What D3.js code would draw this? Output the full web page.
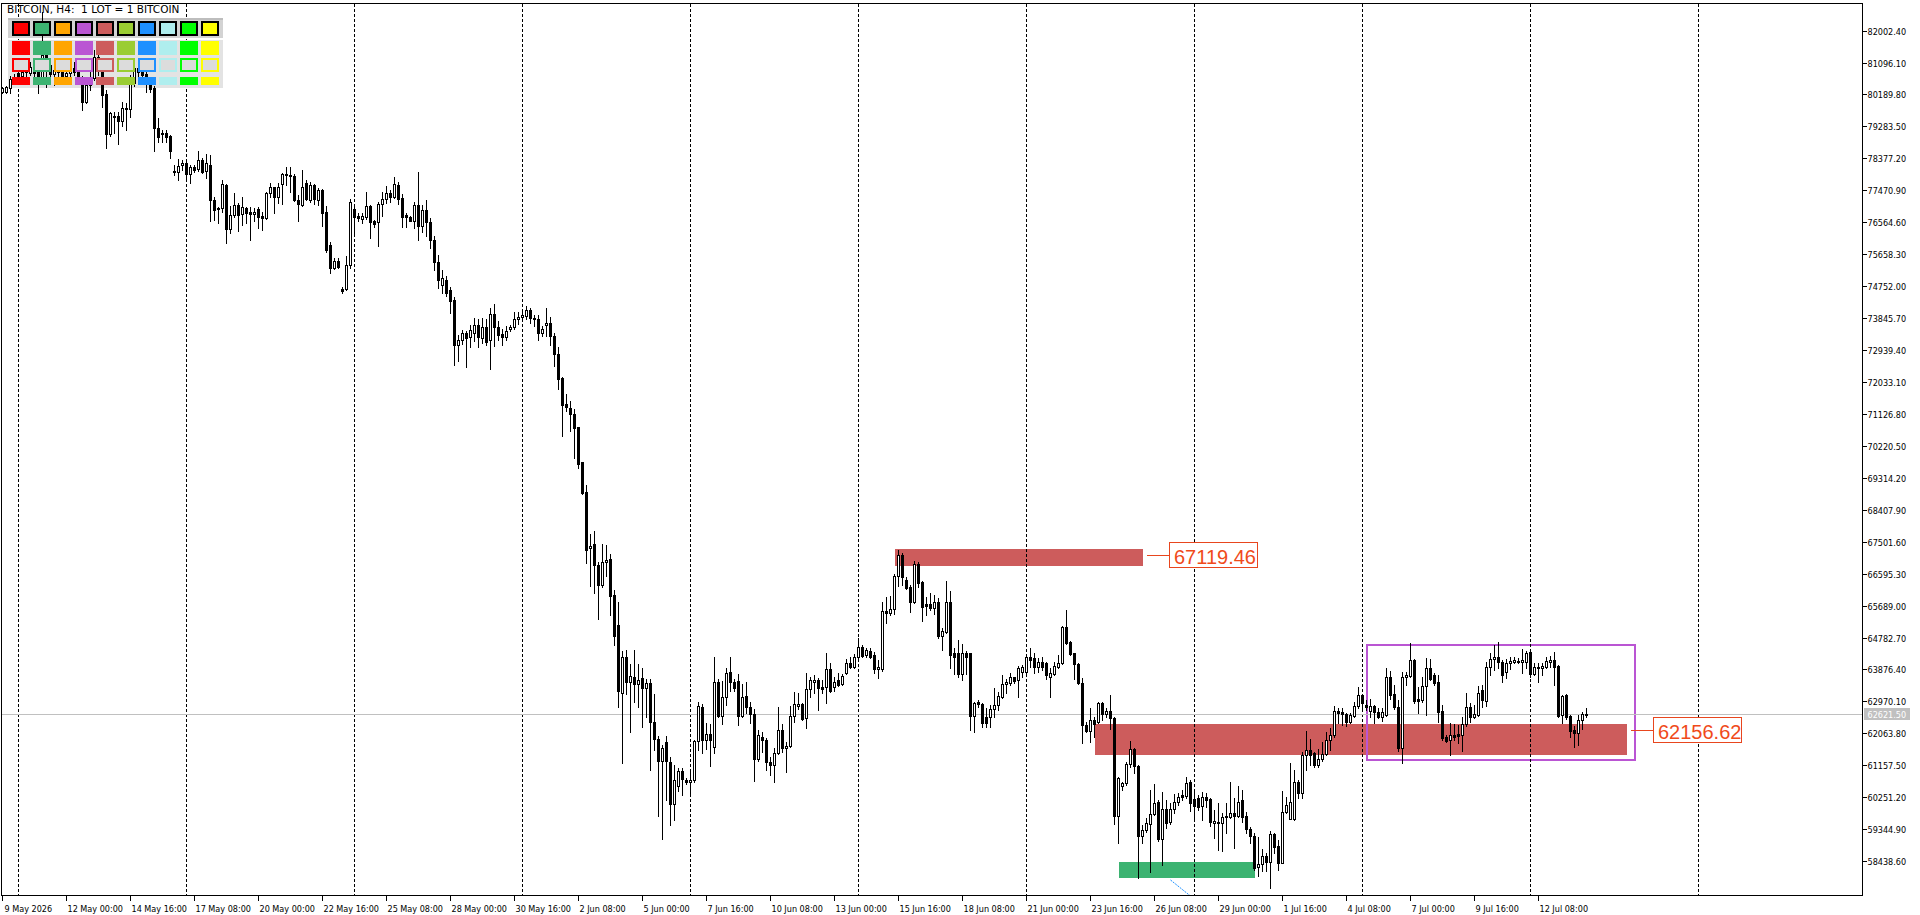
<!DOCTYPE html>
<html><head><meta charset="utf-8">
<script src="https://cdn.jsdelivr.net/npm/d3@7"></script>
<style>
html,body{margin:0;padding:0;background:#fff;overflow:hidden;}
svg{display:block;}
.ax{font-family:"DejaVu Sans Condensed","DejaVu Sans",sans-serif;font-size:9px;fill:#000;}
.title{font-family:"DejaVu Sans",sans-serif;font-size:10.5px;fill:#000;white-space:pre;}
</style></head><body>
<svg id="c" width="1920" height="915"></svg>
<script>
// ---------- DATA ----------
const symbolTitle = "BITCOIN, H4:  1 LOT = 1 BITCOIN";
const firstBarUTC = Date.UTC(2026, 4, 9, 8); // 9 May 2026 08:00, H4 bars
// [open, high, low, close] per H4 bar
const ohlc = [
[80270,80400,80230,80360],[80270,80430,80230,80390],[80370,80710,80220,80620],[80600,80770,80490,80690],[80800,80940,80600,80710],
[80710,80880,80600,80830],[80830,81000,80710,80910],[80810,81110,80740,80980],[80970,81080,80710,80800],[80830,80880,80240,80600],
[80660,82530,80490,81310],[81310,81450,80410,81030],[81030,81170,80660,80770],[80770,81000,80460,80880],[80880,81050,80710,80830],
[80830,80940,80600,80710],[80710,80880,80540,80800],[80800,81030,80660,80940],[80940,81110,80740,80830],[80830,81000,80490,80600],
[80600,80710,79750,79980],[79980,80540,79950,80460],[80460,80880,80320,80660],[80650,81450,80600,81260],[81250,81390,80740,80880],
[80880,81030,79840,80180],[80200,80320,78670,79070],[79070,79700,79010,79660],[79550,79680,79110,79580],[79580,79700,78790,79450],
[79450,79990,79300,79800],[79770,79950,79180,79800],[79770,80740,79560,80520],[80520,81110,80430,80940],[80940,81110,80600,80830],
[80830,80940,80600,80740],[80770,80880,80270,80690],[80460,80540,80260,80340],[80370,80430,78590,79230],[79230,79520,78850,78990],
[79100,79180,78850,79070],[79100,79180,78850,78990],[79010,79040,78400,78590],[78020,78190,77910,77990],[77980,78350,77760,78170],
[78190,78330,78050,78250],[78240,78350,77760,77920],[77920,78190,77690,78120],[78120,78190,77990,78050],[78070,78590,78030,78330],
[78330,78380,77950,78000],[78020,78490,77810,78240],[78190,78470,76600,77200],[77200,77290,76630,76910],[76960,77010,76530,76930],
[76960,77760,76860,77640],[77620,77660,75980,76360],[76360,77030,76250,76770],[76760,77400,76720,77050],[77050,77100,76330,76770],
[76800,77290,76490,77010],[76960,77010,76530,76840],[76860,77010,76060,76800],[76790,76980,76610,76850],[76930,77010,76390,76720],
[76740,76860,76350,76680],[76680,77430,76650,77390],[77390,77670,77290,77560],[77560,77570,76820,77270],[77270,77670,77100,77570],
[77640,77970,77070,77920],[77920,78120,77610,77900],[77910,78140,77430,77870],[77880,77920,77180,77200],[77200,77340,76610,77070],
[77050,78050,77030,77560],[77670,77760,77200,77220],[77200,77720,77150,77610],[77610,77650,77080,77220],[77200,77530,77050,77480],
[77480,77500,76470,76820],[76860,77030,75720,75780],[75920,76010,75120,75260],[75260,75550,75240,75470],[75470,75550,75270,75300],
[74660,74740,74570,74620],[74660,75610,74640,75350],[75350,77220,75260,77150],[76930,77010,76270,76720],[76740,76820,76610,76680],
[76670,76820,76550,76740],[76720,77420,76650,77030],[77030,77050,76130,76580],[76600,76630,76440,76510],[76580,77150,75900,77080],
[77070,77430,76750,77220],[77220,77590,77120,77390],[77400,77480,77150,77290],[77290,77840,77240,77640],[77620,77720,77080,77220],
[77260,77360,76440,76720],[76760,76840,76420,76700],[76720,76740,76590,76610],[76610,77150,76390,77050],[77050,78000,76060,76470],
[76470,77050,76290,76910],[76910,77200,76180,76570],[76570,76690,75830,76060],[76060,76180,75210,75440],[75440,75640,74700,74930],
[74780,75210,74560,74980],[74930,75040,74470,74560],[74640,74730,73990,74340],[74360,74440,72520,73070],[73070,73380,72620,73230],
[73230,73510,73110,73430],[73430,73480,72470,73280],[73310,73650,73020,73510],[73430,73850,73200,73650],[73650,73810,73020,73310],
[73280,73850,73130,73580],[73580,73830,73070,73180],[73230,74120,72400,73950],[73950,74240,73040,73600],[73600,73750,73230,73380],
[73400,73530,73070,73300],[73300,73610,73230,73480],[73530,73650,73480,73600],[73590,74020,73530,73810],[73810,74020,73680,73880],
[73870,74090,73780,73930],[73910,74190,73830,74070],[74070,74140,73710,73850],[73850,73930,73630,73810],[73810,73930,73230,73410],
[73410,73630,73330,73550],[73650,74140,73330,73700],[73700,73880,73070,73350],[73330,73410,72500,72820],[72820,73020,71830,72130],
[72160,72180,70510,71380],[71410,71690,71200,71320],[71300,71490,70650,71120],[71120,71270,69890,70720],[70750,70770,69580,69720],
[69750,69760,68850,68870],[68910,69100,66900,67280],[67310,67710,66240,67390],[67440,67810,66040,66850],[66850,66930,65310,66270],
[66270,67440,66220,66930],[66920,67410,66530,66980],[67020,67150,65410,65960],[65990,66140,64570,64830],[65130,65790,62800,63260],
[63210,64400,61230,64240],[64240,64440,63190,63510],[63510,64020,62110,63680],[63660,64420,62950,63460],[63460,64040,62820,63580],
[63630,63920,62250,63360],[63360,63610,62520,63480],[63480,63610,61030,62400],[62400,63190,61590,61910],[61910,61990,59720,61290],
[61290,61740,59060,61640],[61810,61990,60170,61290],[61260,61390,59470,60070],[60070,61180,59620,60750],[60580,61080,60420,61000],
[61000,61080,60320,60760],[60750,60800,60630,60680],[60680,61030,60290,60750],[60730,61890,60680,61840],[61840,62950,61590,62850],
[62820,62900,61510,61870],[61870,62350,61610,62040],[62040,62320,61130,61870],[61670,64240,61510,63530],[63530,63610,62520,62550],
[62550,63560,62320,63110],[63110,63920,62880,63790],[63810,64220,63260,63510],[63510,63610,63260,63360],[63560,63760,62300,62550],
[62550,63460,62520,63110],[63130,63510,62650,62820],[62820,62950,62350,62620],[62620,62750,60700,61340],[61340,62170,61290,62010],
[61970,62090,61540,61870],[61870,61940,61030,61260],[61260,61390,60880,61160],[61160,61640,60680,61510],[61510,62800,61470,62170],
[62170,62320,61540,61640],[61640,61810,60980,61710],[61710,62850,61670,62570],[62570,63230,62400,62900],[62850,63210,62750,62900],
[62900,62930,62440,62460],[62490,63790,62210,63320],[63320,63670,63100,63580],[63530,63720,63200,63580],[63580,63630,62730,63340],
[63390,63580,63200,63320],[63390,64340,62920,63880],[63880,64050,63250,63280],[63370,63660,63280,63530],[63580,63770,63410,63440],
[63470,63750,63440,63690],[63790,64170,63750,64070],[64070,64220,63910,63960],[63960,64310,63910,64240],[64240,64760,64190,64510],
[64510,64570,64240,64260],[64290,64480,64240,64430],[64400,64480,64190,64240],[64290,64380,63770,63880],[63880,64150,63630,63960],
[63880,65800,63840,65540],[65540,65940,65200,65490],[65490,65960,65420,65580],[65580,66590,65450,66530],[66530,67270,66250,67120],
[67120,67170,66270,66490],[66420,66490,66150,66200],[66230,66270,65520,65800],[65800,66960,65750,66870],[66870,66930,66230,66340],
[66370,66400,65260,65660],[65740,65940,65420,65680],[65740,66050,65560,65610],[65610,65990,65450,65800],[65800,65900,64760,64830],
[64830,65050,64430,64970],[64950,66390,64900,65800],[65800,66100,63910,64290],[64350,64480,63750,64220],[64350,64710,63670,63750],
[63750,64600,63580,64350],[64350,64410,63750,64240],[64340,64350,62160,62560],[62560,62960,62110,62930],[62960,63010,62820,62900],
[62900,62930,62240,62370],[62540,62780,62250,62370],[62520,62870,62240,62750],[62750,63340,62540,62870],[62870,63250,62730,63120],
[63100,63720,63060,63460],[63460,63600,63220,63530],[63500,63790,63440,63660],[63660,63670,63490,63550],[63580,63980,63100,63930],
[63810,64000,63670,63960],[63810,64290,63770,64220],[64220,64500,63960,64150],[64190,64340,63790,63940],[63940,64190,63810,64100],
[64100,64220,63860,63960],[64050,64100,63600,63720],[63670,63910,63100,63770],[63750,64100,63720,63980],[63960,64290,63910,64050],
[64050,65110,64030,65090],[65090,65560,64600,64640],[64670,64690,64290,64310],[64340,64350,63600,64030],[64030,64050,63470,63500],
[63500,63630,61800,62300],[62300,62400,62110,62140],[62140,62780,61830,62440],[62440,62540,61970,62320],[62400,62960,62350,62920],
[62920,62960,62440,62610],[62610,62780,62520,62700],[62700,63150,62180,62490],[62510,62540,59490,59730],[59730,60840,58950,60790],
[60580,60690,60460,60670],[60650,61260,60600,61190],[61190,61860,61120,61610],[61610,61660,60930,61140],[61140,61170,57950,59150],
[59150,59470,58950,59320],[59320,59650,59270,59510],[59490,60460,58140,59780],[59780,60620,59750,60100],[60130,60170,59020,59060],
[59060,60410,58330,59910],[59910,60170,59370,59530],[59560,60100,59490,59930],[59930,60340,59800,60130],[60130,60360,60030,60270],
[60320,60460,60170,60250],[60290,60840,60220,60670],[60690,60740,59870,60100],[60190,60460,59610,60000],[60220,60320,59890,59980],
[60010,60410,59610,60250],[60250,60360,59980,60170],[60190,60220,59440,59560],[59510,59890,59090,59580],[59560,60080,58760,59510],
[59510,59800,58740,59680],[59680,60100,59230,59720],[59700,60680,59650,59810],[59810,60220,58820,59720],[59720,60570,59680,60130],
[60170,60460,59560,59700],[59720,59840,59230,59340],[59340,59420,58960,59150],[59150,59230,58190,58240],[58270,59120,58020,58360],
[58350,58780,58170,58590],[58590,58660,58170,58420],[58420,59300,57670,59210],[59210,59250,58660,58850],[58870,59040,58190,58400],
[58400,60430,58380,59830],[59830,60270,59800,60030],[59640,61220,59630,60130],[59640,61030,59610,60680],[60680,60740,60220,60380],
[60380,61540,60220,61450],[61450,62130,61030,61590],[61590,61900,61170,61450],[61500,61540,61120,61170],[61170,61610,61120,61340],
[61330,61830,61290,61480],[61480,62110,61450,61880],[61880,62210,61590,62020],[62020,62840,61970,62700],[62700,62780,62350,62630],
[62670,62780,62300,62610],[62610,62640,62270,62400],[62400,62640,62350,62590],[62570,62960,62520,62840],[62840,63390,62780,63150],
[63150,63170,62780,62920],[62870,63010,62730,62820],[62710,63030,62520,62840],[62840,62870,62350,62680],[62680,62780,62490,62540],
[62540,62780,62420,62670],[62590,63910,62560,63660],[63660,63830,63030,63150],[63180,63440,62750,62800],[62800,63010,61570,61640],
[61640,63810,61220,63660],[63660,63810,63440,63720],[63700,64620,63670,64150],[64150,64170,62930,62990],[63040,63390,62650,62990],
[63010,63670,62960,63410],[63410,64190,62590,63910],[63910,64170,63580,63600],[63720,63790,63440,63500],[63530,63720,62400,62680],
[62700,62870,61880,61930],[61950,62020,61830,61860],[61880,62370,61450,62020],[62020,62330,61880,61970],[62050,62300,61800,61990],
[62020,62540,61570,62330],[62330,63220,62270,62800],[62800,62920,62400,62520],[62520,62870,62490,62610],[62590,63410,62560,63200],
[63300,63440,62800,63010],[62990,64100,62840,63940],[63940,64340,63720,64170],[64170,64570,63860,64220],[64220,64670,63910,64100],
[64100,64150,63530,63720],[63810,64170,63630,64050],[64050,64240,63880,64120],[64100,64240,64050,64150],[64120,64190,64050,64100],
[64100,64450,63770,64150],[64100,64410,63910,64340],[64380,64410,63670,63750],[63750,64070,63720,63960],[63960,64070,63530,63930],
[63930,64070,63720,63980],[63960,64240,63910,64130],[64100,64260,63960,64150],[64150,64380,63440,63960],[63980,64000,62520,62560],
[62590,63150,62370,63120],[63150,63180,62460,62520],[62560,62590,61970,62140],[62160,62270,61690,62070],[62070,62590,61740,62440],
[62440,62680,62180,62610],[62590,62780,62540,62621.5]
];
const bidPrice = 62621.50;
const priceTicks = [82002.40,81096.10,80189.80,79283.50,78377.20,77470.90,76564.60,75658.30,74752.00,73845.70,72939.40,72033.10,71126.80,
  70220.50,69314.20,68407.90,67501.60,66595.30,65689.00,64782.70,63876.40,62970.10,62063.80,61157.50,60251.20,59344.90,58438.60];
const timeTickLabels = ["9 May 2026","12 May 00:00","14 May 16:00","17 May 08:00","20 May 00:00","22 May 16:00","25 May 08:00",
  "28 May 00:00","30 May 16:00","2 Jun 08:00","5 Jun 00:00","7 Jun 16:00","10 Jun 08:00","13 Jun 00:00","15 Jun 16:00","18 Jun 08:00",
  "21 Jun 00:00","23 Jun 16:00","26 Jun 08:00","29 Jun 00:00","1 Jul 16:00","4 Jul 08:00","7 Jul 00:00","9 Jul 16:00","12 Jul 08:00"];
const weekSeparatorsUTC = ["2026-05-10","2026-05-17","2026-05-24","2026-05-31","2026-06-07","2026-06-14","2026-06-21","2026-06-28","2026-07-05","2026-07-12","2026-07-19"];
// chart objects (time, price)
const zones = [
  {t1:"2026-06-15T12:00Z", t2:"2026-06-25T20:00Z", p1:67300, p2:66820, color:"#CD5C5C"},
  {t1:"2026-06-23T20:00Z", t2:"2026-07-16T00:00Z", p1:62330, p2:61450, color:"#CD5C5C"},
  {t1:"2026-06-24T20:00Z", t2:"2026-06-30T12:00Z", p1:58415, p2:57970, color:"#3CB371"}
];
const rangeBox = {t1:"2026-07-05T04:00Z", t2:"2026-07-16T08:00Z", p1:64580, p2:61320, color:"#BA55D3"};
const trendLine = {t1:"2026-06-27T00:00Z", p1:57905, t2:"2026-06-28T08:00Z", p2:57175, color:"#1E90FF"};
const priceLabels = [
  {value:67119.46, t:"2026-06-25T20:00Z"},
  {value:62156.62, t:"2026-07-16T00:00Z"}
];
const panelColors = ["#FF0000","#3CB371","#FFA500","#BA55D3","#CD5C5C","#9ACD32","#1E90FF","#AFEEEE","#00FF00","#FFFF00"];

// ---------- LAYOUT ----------
const H4 = 4*3600e3;
const plotL = 1.5, plotR = 1862.5, plotT = 3.5, plotB = 895.5;
const x = d3.scaleUtc().domain([new Date(firstBarUTC), new Date(firstBarUTC + 465*H4)]).range([2.5, 2.5 + 465*4]);
const y = d3.scaleLinear().domain([82870, 57337]).range([0, 900]);
const barTime = i => new Date(firstBarUTC + i*H4);

const svg = d3.select("#c");
svg.append("rect").attr("width",1920).attr("height",915).attr("fill","#fff");
svg.append("defs").append("clipPath").attr("id","plot").append("rect")
  .attr("x",plotL).attr("y",plotT).attr("width",plotR-plotL).attr("height",plotB-plotT);
const plot = svg.append("g").attr("clip-path","url(#plot)").attr("shape-rendering","crispEdges");

// background objects
zones.forEach(z=>{
  const x1 = x(new Date(z.t1)), x2 = x(new Date(z.t2));
  const ya = Math.round(y(z.p1)), yb = Math.round(y(z.p2));
  plot.append("rect").attr("x",x1).attr("y",ya).attr("width",x2-x1).attr("height",yb-ya).attr("fill",z.color);
});
{
  const x1 = x(new Date(rangeBox.t1)), x2 = x(new Date(rangeBox.t2));
  const ya = Math.round(y(rangeBox.p1)), yb = Math.round(y(rangeBox.p2));
  plot.append("rect").attr("x",x1).attr("y",ya).attr("width",x2-x1).attr("height",yb-ya)
    .attr("fill","none").attr("stroke",rangeBox.color).attr("stroke-width",2);
}
plot.append("line").attr("shape-rendering","auto")
  .attr("x1",x(new Date(trendLine.t1))).attr("y1",y(trendLine.p1))
  .attr("x2",x(new Date(trendLine.t2))).attr("y2",y(trendLine.p2))
  .attr("stroke",trendLine.color).attr("stroke-width",1).attr("stroke-dasharray","2,1");

// week separators
weekSeparatorsUTC.forEach(d=>{
  const xx = x(new Date(d+"T00:00Z"));
  plot.append("line").attr("x1",xx).attr("x2",xx).attr("y1",plotT).attr("y2",plotB)
    .attr("stroke","#000").attr("stroke-dasharray","3,2");
});

// panel background (behind candles)
const panelX = 7.5, panelW = 215;
svg.append("rect").attr("x",panelX).attr("y",17.5).attr("width",panelW).attr("height",20).attr("fill","#d3d3d3").attr("shape-rendering","crispEdges");
svg.append("rect").attr("x",panelX).attr("y",17.5).attr("width",panelW).attr("height",2).attr("fill","#bdbdbd").attr("shape-rendering","crispEdges");
svg.append("rect").attr("x",panelX).attr("y",39.5).attr("width",panelW).attr("height",48).attr("fill","#e3e3e3").attr("shape-rendering","crispEdges");

// bid line
const yBid = Math.round(y(bidPrice)) + 0.5;
plot.append("line").attr("x1",plotL).attr("x2",plotR).attr("y1",yBid).attr("y2",yBid).attr("stroke","#c0c0c0");

// candles
const cg = svg.append("g").attr("clip-path","url(#plot)").attr("shape-rendering","crispEdges");
ohlc.forEach((b,i)=>{
  const [o,h,l,c] = b;
  const cx = x(barTime(i));
  const yh = Math.round(y(h)), yl = Math.round(y(l));
  cg.append("line").attr("x1",cx).attr("x2",cx).attr("y1",yh).attr("y2",yl+1).attr("stroke","#000");
  const t = Math.round(y(Math.max(o,c))), btm = Math.round(y(Math.min(o,c)));
  if (c >= o) {
    cg.append("rect").attr("x",cx-1).attr("y",t+0.5).attr("width",2).attr("height",Math.max(btm-t,0))
      .attr("fill","#fff").attr("stroke","#000").attr("stroke-width",1);
  } else {
    cg.append("rect").attr("x",cx-1.5).attr("y",t).attr("width",3).attr("height",btm-t+1).attr("fill","#000");
  }
});

// panel buttons (above candles)
const pg = svg.append("g").attr("shape-rendering","crispEdges");
panelColors.forEach((col,k)=>{
  const bx = 11.5 + 21*k;
  pg.append("rect").attr("x",bx+1).attr("y",21.5).attr("width",16).attr("height",13).attr("fill",col).attr("stroke","#000").attr("stroke-width",2);
  pg.append("rect").attr("x",bx).attr("y",40.5).attr("width",18).attr("height",14.5).attr("fill",col);
  pg.append("rect").attr("x",bx+1).attr("y",58.5).attr("width",16).attr("height",12.5).attr("fill","#dcdcdc").attr("stroke",col).attr("stroke-width",2);
  pg.append("rect").attr("x",bx).attr("y",76.5).attr("width",18).attr("height",8.5).attr("fill",col);
});
svg.append("text").attr("class","title").attr("x",7).attr("y",13).attr("xml:space","preserve").text(symbolTitle);

// price labels with boxes
priceLabels.forEach(pl=>{
  const xr = x(new Date(pl.t));
  const yy = Math.round(y(pl.value)) + 0.5;
  const g = svg.append("g");
  g.append("line").attr("x1",xr+4).attr("x2",xr+26).attr("y1",yy).attr("y2",yy).attr("stroke","#E8461E").attr("shape-rendering","crispEdges");
  const bx = Math.round(xr+26)+0.5;
  g.append("rect").attr("x",bx).attr("y",yy-13).attr("width",88).attr("height",25).attr("fill","#fff").attr("stroke","#E8461E").attr("shape-rendering","crispEdges");
  g.append("text").attr("x",bx+4.5).attr("y",yy+8).attr("font-family","'Liberation Sans',Arial,sans-serif").attr("font-size",20)
    .attr("fill","#F04A1A").text(d3.format(".2f")(pl.value));
});

// frame
svg.append("rect").attr("x",plotL).attr("y",plotT).attr("width",plotR-plotL).attr("height",plotB-plotT)
  .attr("fill","none").attr("stroke","#000").attr("shape-rendering","crispEdges");

// right price axis
priceTicks.forEach(p=>{
  const yy = Math.round(y(p)) + 0.5;
  svg.append("line").attr("x1",plotR).attr("x2",plotR+4).attr("y1",yy).attr("y2",yy).attr("stroke","#000").attr("shape-rendering","crispEdges");
  svg.append("text").attr("class","ax").attr("x",plotR+5).attr("y",yy+3.5).text(d3.format(".2f")(p));
});
svg.append("rect").attr("x",plotR+1).attr("y",yBid-6.5).attr("width",46).attr("height",12).attr("fill","#c0c0c0").attr("shape-rendering","crispEdges");
svg.append("text").attr("class","ax").attr("x",plotR+5).attr("y",yBid+3.5).style("fill","#fff").text(d3.format(".2f")(bidPrice));

// bottom time axis
timeTickLabels.forEach((lab,k)=>{
  const xx = x(barTime(k*16));
  svg.append("line").attr("x1",xx).attr("x2",xx).attr("y1",plotB).attr("y2",plotB+5).attr("stroke","#000").attr("shape-rendering","crispEdges");
  svg.append("text").attr("class","ax").attr("x",k===0 ? xx+2 : xx+1).attr("y",plotB+16).text(lab);
});
</script>
</body></html>
